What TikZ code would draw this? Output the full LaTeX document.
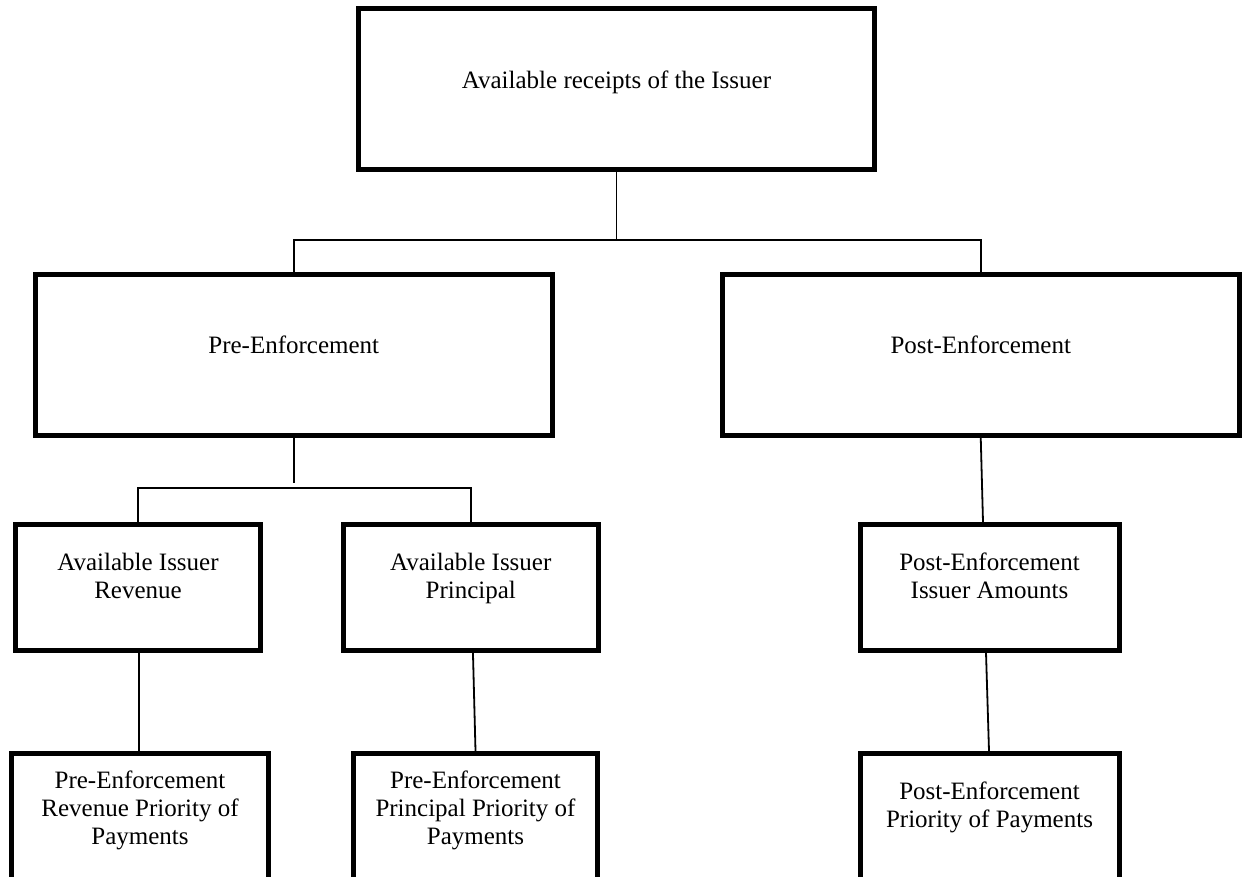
\documentclass[tikz,border=0pt]{standalone}
\usepackage{fontspec}
\setmainfont{Liberation Serif}
\tikzset{
  boxnode/.style={draw, rectangle, line width=2.5pt, inner sep=0pt},
  textnode/.style={inner sep=0pt, align=center, anchor=north, font=\fontsize{12.5}{14}\selectfont},
  conn/.style={line width=0.9pt},
}
\begin{document}
\begin{tikzpicture}[x=0.5pt,y=-0.5pt]
\fill[white] (0,0) rectangle (1242,877);
\useasboundingbox (0,0) rectangle (1242,877);
% boxes
\node[boxnode, minimum width=258pt, minimum height=80.75pt] (top) at (616.5,89.25) {};
\node[boxnode, minimum width=258.25pt, minimum height=80.5pt] (pre) at (293.75,355) {};
\node[boxnode, minimum width=258.25pt, minimum height=80.5pt] (post) at (980.75,355) {};
\node[boxnode, minimum width=122.5pt, minimum height=62.75pt] (rev) at (138,587.25) {};
\node[boxnode, minimum width=127.25pt, minimum height=62.75pt] (prin) at (470.75,587.25) {};
\node[boxnode, minimum width=129.5pt, minimum height=62.75pt] (pia) at (989.5,587.25) {};
\node[boxnode, minimum width=128.5pt, minimum height=65.75pt] (bl) at (140,819.25) {};
\node[boxnode, minimum width=122pt, minimum height=65.75pt] (bm) at (475.5,819.25) {};
\node[boxnode, minimum width=129.5pt, minimum height=65.75pt] (br) at (989.5,819.25) {};
% texts
\node[textnode] (toptxt) at (616.5,68.4) {\strut Available receipts of the Issuer};
\node[textnode] (pretxt) at (293.75,333.4) {\strut Pre-Enforcement};
\node[textnode] (posttxt) at (980.75,333.4) {\strut Post-Enforcement};
\node[textnode] (revtxt) at (138,550.4) {\strut Available Issuer\\\strut Revenue};
\node[textnode] (printxt) at (470.75,550.4) {\strut Available Issuer\\\strut Principal};
\node[textnode] (piatxt) at (989.5,550.4) {\strut Post-Enforcement\\\strut Issuer Amounts};
\node[textnode] (bltxt) at (140,768.4) {\strut Pre-Enforcement\\\strut Revenue Priority of\\\strut Payments};
\node[textnode] (bmtxt) at (475.5,768.4) {\strut Pre-Enforcement\\\strut Principal Priority of\\\strut Payments};
\node[textnode] (brtxt) at (989.5,779.4) {\strut Post-Enforcement\\\strut Priority of Payments};
% connectors
\coordinate (h1) at (616.5,240);
\coordinate (h2) at (293.75,483);
\coordinate (h3) at (293.75,488);
\draw[conn] (top.south) -- (h1);
\draw[conn] (pre.north) -- (pre.north |- h1) -- (post.north |- h1) -- (post.north);
\draw[conn] (pre.south) -- (h2);
\draw[conn] (rev.north) -- (rev.north |- h3) -- (prin.north |- h3) -- (prin.north);
\draw[conn] ([xshift=0.5pt]rev.south) -- ([xshift=-0.5pt]bl.north);
\draw[conn] ([xshift=1.1pt]prin.south) -- (bm.north);
\draw[conn] (post.south) -- ([xshift=-3.25pt]pia.north);
\draw[conn] ([xshift=-1.75pt]pia.south) -- ([xshift=-0.25pt]br.north);
\end{tikzpicture}
\end{document}
